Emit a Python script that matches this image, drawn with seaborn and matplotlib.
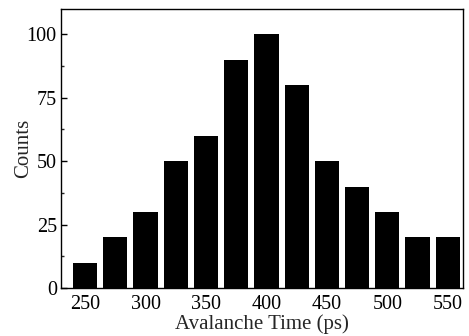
import matplotlib
matplotlib.use("Agg")
import matplotlib.pyplot as plt
import seaborn as sns
import pandas as pd
from matplotlib.ticker import MultipleLocator

times = [250, 275, 300, 325, 350, 375, 400, 425, 450, 475, 500, 525, 550]
counts = [10, 20, 30, 50, 60, 90, 100, 80, 50, 40, 30, 20, 20]

sns.set_theme(style="ticks")
plt.rcParams['font.family'] = ['Liberation Serif', 'DejaVu Serif']

df = pd.DataFrame({"t": times, "c": counts})
fig, ax = plt.subplots(figsize=(4.69, 3.36), dpi=100)
sns.barplot(data=df, x="t", y="c", native_scale=True, width=0.8,
            color="black", saturation=1, ax=ax, edgecolor="black", linewidth=0)
ax.set_xlim(230, 562.5)
ax.set_ylim(0, 110)
ax.set_xticks([250, 300, 350, 400, 450, 500, 550])
ax.set_yticks([0, 25, 50, 75, 100])
ax.yaxis.set_minor_locator(MultipleLocator(12.5))
ax.tick_params(axis='y', which='major', direction='in', length=4, width=1, labelsize=14.5, colors='black', pad=3)
ax.tick_params(axis='y', which='minor', direction='in', length=2, width=1)
ax.tick_params(axis='x', length=0, labelsize=14.5, colors='black', pad=5)
for s in ax.spines.values():
    s.set_visible(True)
    s.set_color('black')
    s.set_linewidth(1)
ax.set_xlabel("Avalanche Time (ps)", fontsize=15, labelpad=0)
ax.set_ylabel("Counts", fontsize=15, labelpad=-4.5)
fig.subplots_adjust(left=0.13, right=0.987, top=0.973, bottom=0.143)
fig.savefig("out.png", dpi=100)
